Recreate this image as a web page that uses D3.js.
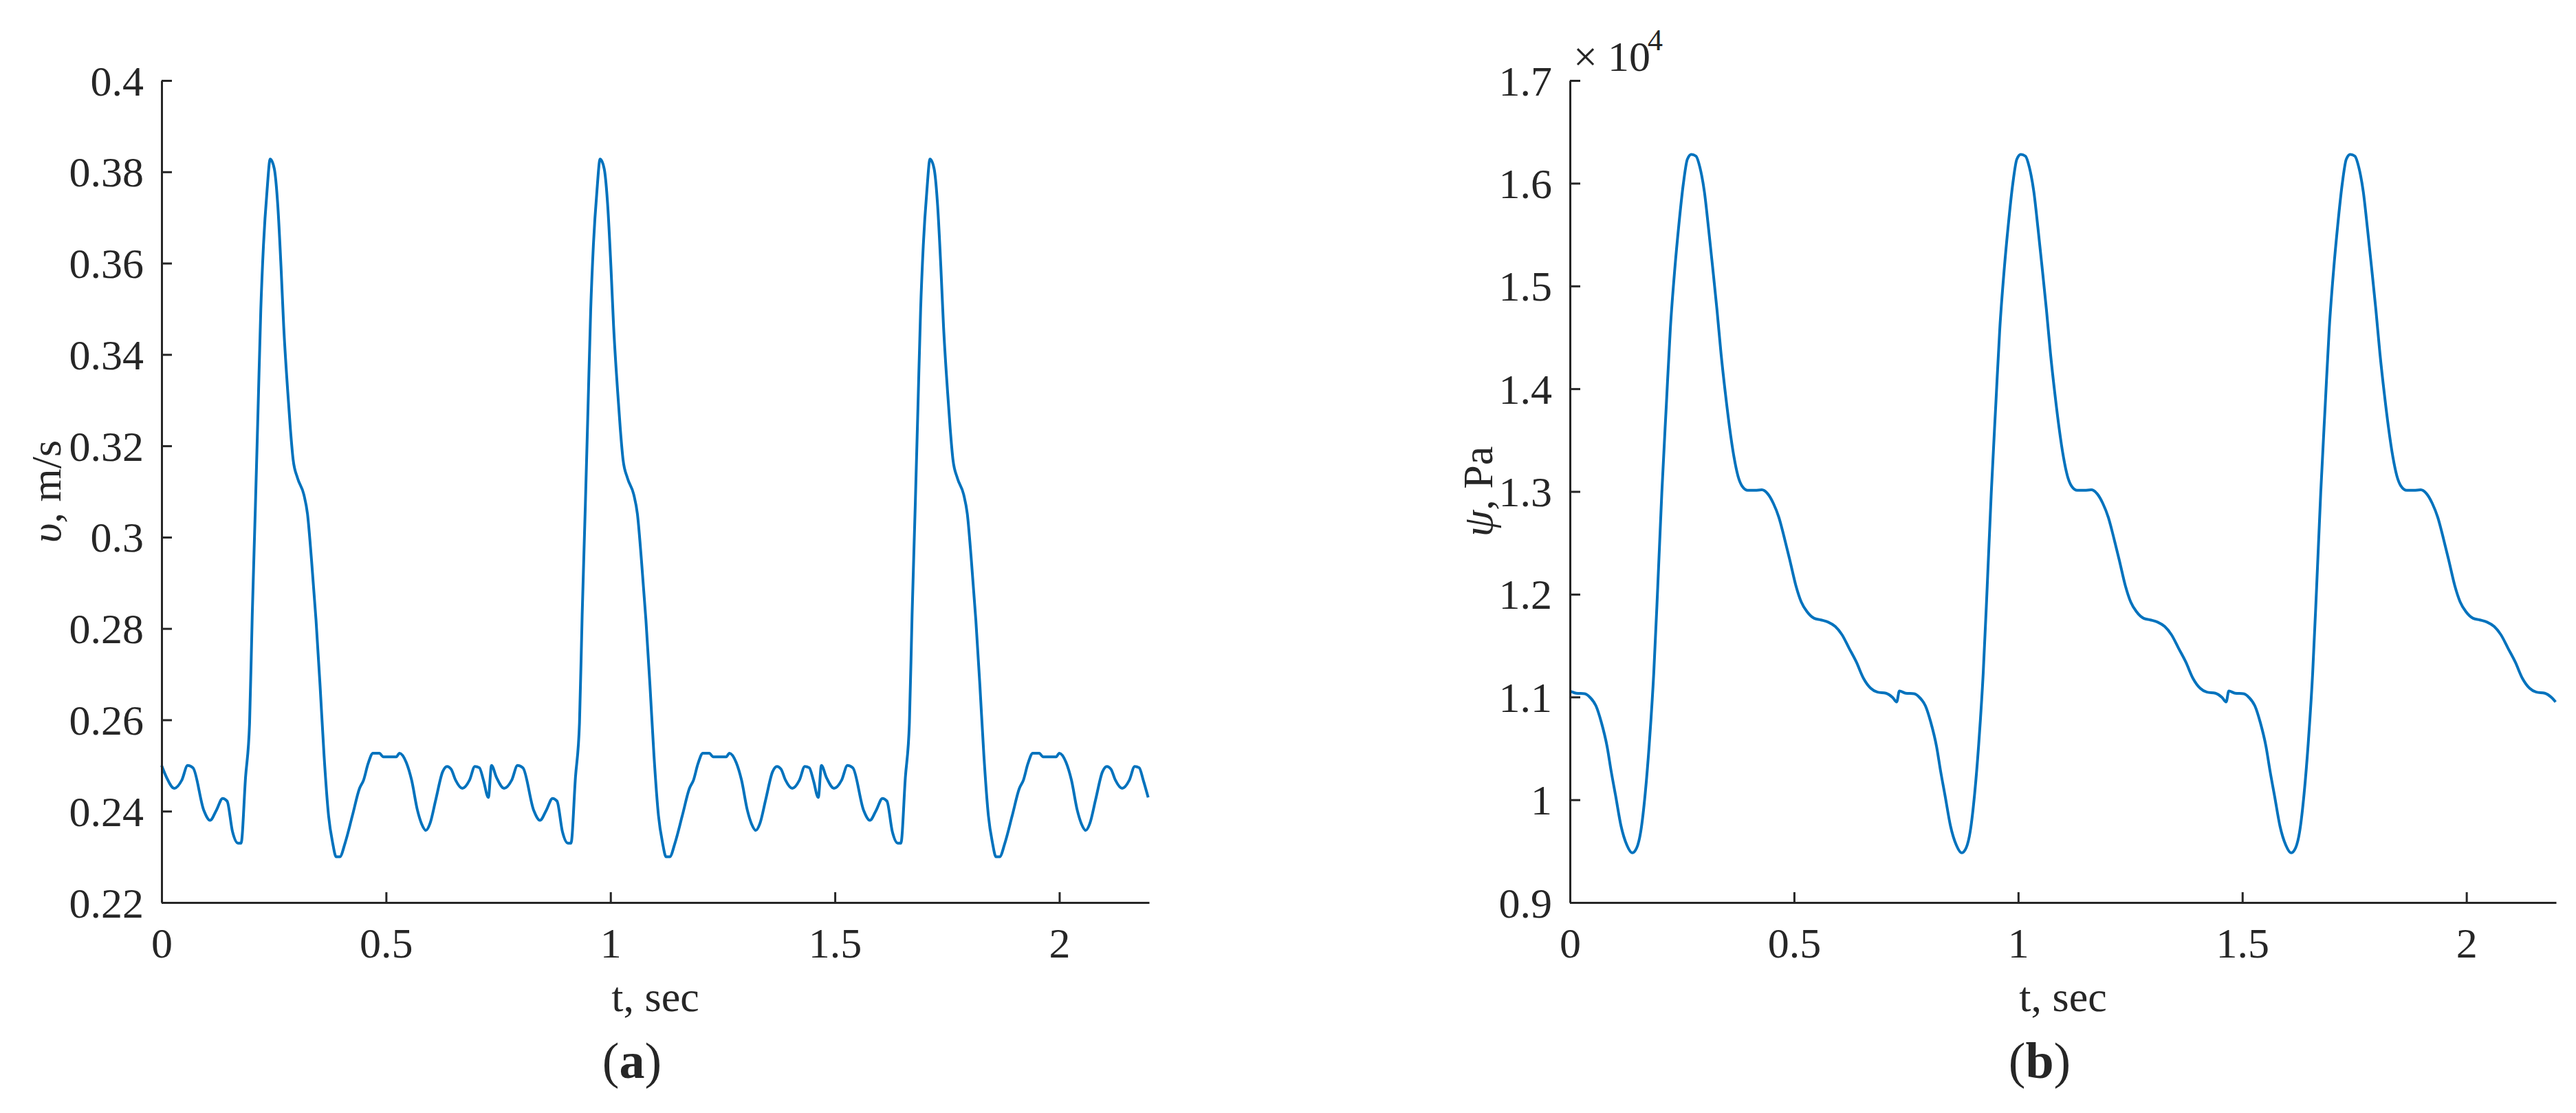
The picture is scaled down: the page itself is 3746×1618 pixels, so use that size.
<!DOCTYPE html>
<html>
<head>
<meta charset="utf-8">
<script src="https://cdn.jsdelivr.net/npm/d3@7"></script>
<style>
  html, body { margin: 0; padding: 0; background: #ffffff; }
  svg { display: block; }
  text { font-family: "Liberation Serif", "Times New Roman", serif; fill: #262626; }
</style>
</head>
<body>
<svg id="chart" width="3746" height="1618"></svg>
<script>
// ---------------- DATA ----------------
const timeTicks = [0, 0.5, 1, 1.5, 2];
const velocityTicks = [0.22, 0.24, 0.26, 0.28, 0.30, 0.32, 0.34, 0.36, 0.38, 0.40];
const pressureTicks = [9000, 10000, 11000, 12000, 13000, 14000, 15000, 16000, 17000];

// (a) velocity v, m/s
const velocityTime = [
  0, .011, .028, .045, .058, .070, .094, .108, .122, .136, .146, .158, .170, .177, .187, .196, .202, .209, .215, .221,
  .227, .235, .242, .251, .259, .266, .272, .281, .287, .293, .303, .317, .325, .334, .344, .353, .362, .372, .381, .389,
  .397, .409, .425, .441, .450, .460, .471, .485, .494, .523, .530, .545, .557, .570, .579, .589, .598, .611, .626, .636,
  .645, .655, .670, .686, .698, .708, .717, .728,
  .735, .746, .763, .780, .793, .805, .829, .843, .857, .871, .881, .893, .905, .912, .922, .931, .937, .944, .950, .956,
  .962, .970, .977, .986, .994, 1.001, 1.007, 1.016, 1.022, 1.028, 1.038, 1.052, 1.060, 1.069, 1.079, 1.088, 1.097, 1.107, 1.116, 1.124,
  1.132, 1.144, 1.160, 1.176, 1.185, 1.195, 1.206, 1.220, 1.229, 1.258, 1.265, 1.280, 1.292, 1.305, 1.314, 1.324, 1.333, 1.346, 1.361, 1.371,
  1.380, 1.390, 1.405, 1.421, 1.433, 1.443, 1.452, 1.463,
  1.470, 1.481, 1.498, 1.515, 1.528, 1.540, 1.564, 1.578, 1.592, 1.606, 1.616, 1.628, 1.640, 1.647, 1.657, 1.666, 1.672, 1.679, 1.685, 1.691,
  1.697, 1.705, 1.712, 1.721, 1.729, 1.736, 1.742, 1.751, 1.757, 1.763, 1.773, 1.787, 1.795, 1.804, 1.814, 1.823, 1.832, 1.842, 1.851, 1.859,
  1.867, 1.879, 1.895, 1.911, 1.920, 1.930, 1.941, 1.955, 1.964, 1.993, 2.000, 2.015, 2.027, 2.040, 2.049, 2.059, 2.068, 2.081, 2.096, 2.106,
  2.115, 2.125, 2.140, 2.156, 2.168, 2.178, 2.187, 2.198
];
const velocity = [
  .2500, .2474, .2450, .2468, .2500, .2495, .2402, .2380, .2402, .2428, .2422, .2355, .2330, .2330, .2474, .2593, .2831, .3069, .3283, .3498,
  .3640, .3760, .3828, .3807, .3724, .3593, .3462, .3319, .3236, .3170, .3129, .3093, .3051, .2950, .2819, .2676, .2521, .2390, .2331, .2300,
  .2300, .2331, .2390, .2450, .2468, .2504, .2527, .2527, .2519, .2519, .2527, .2507, .2468, .2402, .2373, .2358, .2373, .2426, .2486, .2498,
  .2492, .2468, .2450, .2468, .2498, .2495, .2468, .2430,
  .2500, .2474, .2450, .2468, .2500, .2495, .2402, .2380, .2402, .2428, .2422, .2355, .2330, .2330, .2474, .2593, .2831, .3069, .3283, .3498,
  .3640, .3760, .3828, .3807, .3724, .3593, .3462, .3319, .3236, .3170, .3129, .3093, .3051, .2950, .2819, .2676, .2521, .2390, .2331, .2300,
  .2300, .2331, .2390, .2450, .2468, .2504, .2527, .2527, .2519, .2519, .2527, .2507, .2468, .2402, .2373, .2358, .2373, .2426, .2486, .2498,
  .2492, .2468, .2450, .2468, .2498, .2495, .2468, .2430,
  .2500, .2474, .2450, .2468, .2500, .2495, .2402, .2380, .2402, .2428, .2422, .2355, .2330, .2330, .2474, .2593, .2831, .3069, .3283, .3498,
  .3640, .3760, .3828, .3807, .3724, .3593, .3462, .3319, .3236, .3170, .3129, .3093, .3051, .2950, .2819, .2676, .2521, .2390, .2331, .2300,
  .2300, .2331, .2390, .2450, .2468, .2504, .2527, .2527, .2519, .2519, .2527, .2507, .2468, .2402, .2373, .2358, .2373, .2426, .2486, .2498,
  .2492, .2468, .2450, .2468, .2498, .2495, .2468, .2430
];

// (b) pressure psi, Pa
const pressureTime = [
  0, .014, .033, .045, .058, .070, .083, .092, .102, .114, .127, .139, .149, .158, .168, .177, .187, .196, .205, .215,
  .224, .234, .243, .253, .262, .271, .281, .290, .300, .309, .318, .328, .337, .347, .356, .366, .375, .384, .397, .413,
  .428, .441, .454, .466, .479, .491, .504, .516, .529, .545, .560, .576, .592, .607, .623, .639, .655, .671, .686, .705,
  .720, .729,
  .735, .749, .768, .780, .793, .805, .818, .827, .837, .849, .862, .874, .884, .893, .903, .912, .922, .931, .940, .950,
  .959, .969, .978, .988, .997, 1.006, 1.016, 1.025, 1.035, 1.044, 1.053, 1.063, 1.072, 1.082, 1.091, 1.101, 1.110, 1.119, 1.132, 1.148,
  1.163, 1.176, 1.189, 1.201, 1.214, 1.226, 1.239, 1.251, 1.264, 1.280, 1.295, 1.311, 1.327, 1.342, 1.358, 1.374, 1.390, 1.406, 1.421, 1.440,
  1.455, 1.464,
  1.470, 1.484, 1.503, 1.515, 1.528, 1.540, 1.553, 1.562, 1.572, 1.584, 1.597, 1.609, 1.619, 1.628, 1.638, 1.647, 1.657, 1.666, 1.675, 1.685,
  1.694, 1.704, 1.713, 1.723, 1.732, 1.741, 1.751, 1.760, 1.770, 1.779, 1.788, 1.798, 1.807, 1.817, 1.826, 1.836, 1.845, 1.854, 1.867, 1.883,
  1.898, 1.911, 1.924, 1.936, 1.949, 1.961, 1.974, 1.986, 1.999, 2.015, 2.030, 2.046, 2.062, 2.077, 2.093, 2.109, 2.125, 2.141, 2.156, 2.175,
  2.190, 2.199
];
const pressure = [
  11059, 11037, 11032, 10995, 10915, 10755, 10516, 10277, 10037, 9745, 9559, 9483, 9532, 9691, 10064, 10543, 11234, 12085, 12989, 13840,
  14585, 15170, 15596, 15995, 16234, 16280, 16265, 16154, 15915, 15569, 15197, 14771, 14346, 13947, 13628, 13335, 13149, 13053, 13011, 13011,
  13016, 12979, 12883, 12750, 12537, 12324, 12085, 11926, 11830, 11766, 11750, 11729, 11686, 11606, 11473, 11340, 11181, 11085, 11048, 11037,
  10995, 10952,
  11059, 11037, 11032, 10995, 10915, 10755, 10516, 10277, 10037, 9745, 9559, 9483, 9532, 9691, 10064, 10543, 11234, 12085, 12989, 13840,
  14585, 15170, 15596, 15995, 16234, 16280, 16265, 16154, 15915, 15569, 15197, 14771, 14346, 13947, 13628, 13335, 13149, 13053, 13011, 13011,
  13016, 12979, 12883, 12750, 12537, 12324, 12085, 11926, 11830, 11766, 11750, 11729, 11686, 11606, 11473, 11340, 11181, 11085, 11048, 11037,
  10995, 10952,
  11059, 11037, 11032, 10995, 10915, 10755, 10516, 10277, 10037, 9745, 9559, 9483, 9532, 9691, 10064, 10543, 11234, 12085, 12989, 13840,
  14585, 15170, 15596, 15995, 16234, 16280, 16265, 16154, 15915, 15569, 15197, 14771, 14346, 13947, 13628, 13335, 13149, 13053, 13011, 13011,
  13016, 12979, 12883, 12750, 12537, 12324, 12085, 11926, 11830, 11766, 11750, 11729, 11686, 11606, 11473, 11340, 11181, 11085, 11048, 11037,
  10995, 10952
];

// ---------------- DRAWING ----------------
const svg = d3.select("#chart");
svg.append("rect").attr("width", 3746).attr("height", 1618).attr("fill", "#ffffff");

const AXIS_COLOR = "#262626";
const LINE_COLOR = "#0072BD";
const FONT = 62;
const TOP = 117, BOTTOM = 1312;

function drawPanel(opt) {
  const x = d3.scaleLinear().domain([0, 2.2]).range([opt.left, opt.right]);
  const y = d3.scaleLinear().domain(opt.yDomain).range([BOTTOM, TOP]);
  const g = svg.append("g");

  // line
  const pts = opt.times.map((t, i) => [t, opt.values[i]]);
  g.append("path")
    .datum(pts)
    .attr("fill", "none")
    .attr("stroke", LINE_COLOR)
    .attr("stroke-width", 4)
    .attr("stroke-linejoin", "round")
    .attr("d", d3.line().x(d => x(d[0])).y(d => y(d[1])).curve(d3.curveMonotoneX));

  // x axis
  const xa = g.append("g").attr("transform", `translate(0,${BOTTOM})`)
    .call(d3.axisBottom(x).tickValues(timeTicks).tickSizeInner(-15).tickSizeOuter(0)
      .tickFormat(d => String(d)));
  // y axis
  const ya = g.append("g").attr("transform", `translate(${opt.left},0)`)
    .call(d3.axisLeft(y).tickValues(opt.yTicks).tickSizeInner(-15).tickSizeOuter(0)
      .tickPadding(26).tickFormat(opt.yFormat));

  [xa, ya].forEach(a => {
    a.select(".domain").attr("stroke", AXIS_COLOR).attr("stroke-width", 3);
    a.selectAll(".tick line").attr("stroke", AXIS_COLOR).attr("stroke-width", 3);
    a.selectAll(".tick text").attr("fill", AXIS_COLOR)
      .style("font-family", '"Liberation Serif", "Times New Roman", serif')
      .style("font-size", FONT + "px");
  });
  xa.selectAll(".tick text").attr("y", 80).attr("dy", null);
  ya.selectAll(".tick text").attr("dy", "0.34em");
  xa.attr("font-size", null).attr("font-family", null);
  ya.attr("font-size", null).attr("font-family", null);

  // x label
  g.append("text")
    .attr("x", (opt.left + opt.right) / 2).attr("y", 1470)
    .attr("text-anchor", "middle")
    .style("font-size", FONT + "px")
    .text("t, sec");

  // y label (rotated)
  const yl = g.append("text")
    .attr("transform", `translate(${opt.yLabelX},${(TOP + BOTTOM) / 2}) rotate(-90)`)
    .attr("text-anchor", "middle")
    .style("font-size", FONT + "px");
  yl.append("tspan").style("font-style", "italic").text(opt.ySymbol);
  yl.append("tspan").text(opt.yUnit);

  // panel tag
  const tag = g.append("text")
    .attr("x", opt.tagX).attr("y", 1567)
    .attr("text-anchor", "middle")
    .style("font-size", "74px");
  tag.append("tspan").text("(");
  tag.append("tspan").style("font-weight", "bold").text(opt.tag);
  tag.append("tspan").text(")");
  return g;
}

drawPanel({
  left: 235, right: 1671,
  yDomain: [0.22, 0.40], yTicks: velocityTicks,
  yFormat: d => String(+d.toFixed(2)),
  times: velocityTime, values: velocity,
  yLabelX: 88, ySymbol: "υ", yUnit: ", m/s",
  tagX: 919, tag: "a"
});

const right = drawPanel({
  left: 2283, right: 3717,
  yDomain: [9000, 17000], yTicks: pressureTicks,
  yFormat: d => String(+(d / 10000).toFixed(1)),
  times: pressureTime, values: pressure,
  yLabelX: 2170, ySymbol: "ψ", yUnit: ", Pa",
  tagX: 2966, tag: "b"
});

// exponent label ×10^4
const expo = svg.append("text").style("font-size", FONT + "px");
expo.append("tspan").attr("x", 2288).attr("y", 103).text("×");
expo.append("tspan").attr("x", 2338).attr("y", 103).text("10");
expo.append("tspan").attr("x", 2396).attr("y", 73).style("font-size", "44px").text("4");
</script>
</body>
</html>
